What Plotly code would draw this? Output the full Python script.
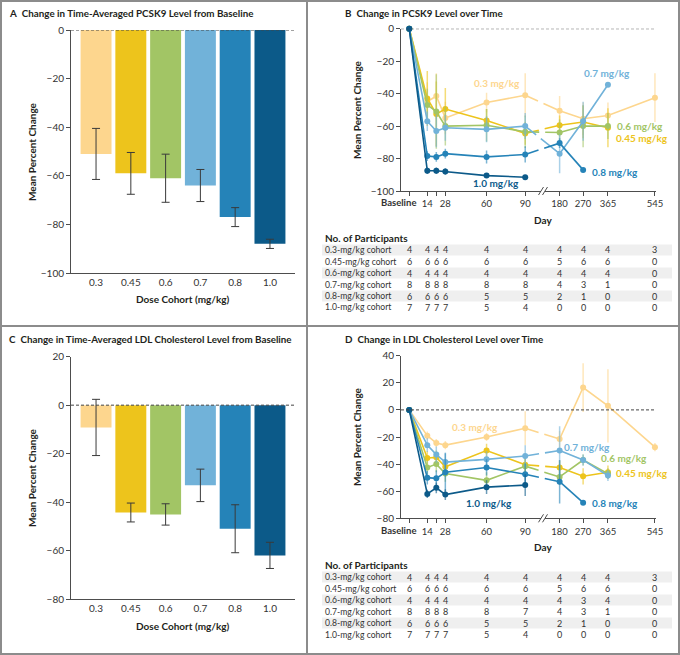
import plotly.graph_objects as go

W, H = 680, 655
FONT = "Lato"
INK = "#231f20"
AXIS = "#4d4d4d"

# dose cohorts (mg/kg) and their colours
doses = ["0.3", "0.45", "0.6", "0.7", "0.8", "1.0"]
dose_colors = ["#FDD68E", "#EDC41C", "#A2C565", "#71B2D9", "#2583B8", "#0C5A89"]

# panel A: time-averaged PCSK9 change, panel C: time-averaged LDL change
pcsk9_avg = [-51, -59, -61, -64, -77, -88]
pcsk9_avg_err = [10.5, 8.6, 9.9, 6.6, 3.9, 1.9]
ldl_avg = [-9.2, -44.3, -45.1, -33.1, -51, -62]
ldl_avg_err = [11.6, 3.9, 4.4, 6.7, 9.9, 5.4]

# panels B / D: change over time
days = [0, 14, 21, 28, 60, 90, 180, 270, 365, 545]
day_labels = ["", "14", "", "28", "60", "90", "180", "270", "365", "545"]

pcsk9_03 = [0, -45, -41.5, -55, -45.5, -41, -50.5, -55.5, -53.5, -42.5]
pcsk9_045 = [0, -43, -52.5, -49.5, -56.5, -64.5, -59.5, -57.5, -61, None]
pcsk9_06 = [0, -47, -51, -60, -59.5, -63.5, -64, -60, -60, None]
pcsk9_07 = [0, -57, -63, -61, -62, -60, -77, -57, -34.5, None]
pcsk9_08 = [0, -78.5, -79, -77, -79, -77.5, -70.5, -87, None, None]
pcsk9_10 = [0, -87.5, -87.5, -88, -90.5, -91.5, None, None, None, None]

pcsk9_03_err = [0, 12, 14, 10, 6, 13.5, 9, 10, 8, 15]
pcsk9_045_err = [0, 17, 20, 13, 7, 7, 6, 10, 12, None]
pcsk9_06_err = [0, 10, 23, 12, 10, 10, 8, 13, 8, None]
pcsk9_07_err = [0, 6, 10, 8, 8, 8, 12, 12, 0, None]
pcsk9_08_err = [0, 3, 3, 3, 4, 5, 3, 0, None, None]
pcsk9_10_err = [0, 2, 2, 2, 1, 1, None, None, None, None]

ldl_03 = [0, -19, -24.5, -26, -20, -13.5, -21.5, 16.5, 3, -27.5]
ldl_045 = [0, -35.5, -35, -42, -30, -40.5, -42.5, -49, -46, None]
ldl_06 = [0, -42.5, -40, -47, -52, -41.5, -49.5, -37, -47, None]
ldl_07 = [0, -26, -33, -38.5, -36.5, -34, -30, -37, -48.5, None]
ldl_08 = [0, -50, -50.5, -46, -42.5, -47.5, -53, -68.5, None, None]
ldl_10 = [0, -62, -57.5, -62.5, -57, -55.5, None, None, None, None]

ldl_03_err = [0, 3, 3, 3, 3, 12.5, 6, 18, 27, 3]
ldl_045_err = [0, 5, 5, 5, 5, 6, 5, 6, 5, None]
ldl_06_err = [0, 5, 6, 6, 6, 8, 6, 4, 4, None]
ldl_07_err = [0, 5, 6, 7, 6, 8, 18, 4, 4, None]
ldl_08_err = [0, 5, 6, 14, 6, 8, 16, 0, None, None]
ldl_10_err = [0, 3, 4, 4, 5, 8, None, None, None, None]

# number of participants
n_pcsk9 = [
    [4, 4, 4, 4, 4, 4, 4, 4, 4, 3],
    [6, 6, 6, 6, 6, 6, 5, 6, 6, 0],
    [4, 4, 4, 4, 4, 4, 4, 4, 4, 0],
    [8, 8, 8, 8, 8, 8, 4, 3, 1, 0],
    [6, 6, 6, 6, 5, 5, 2, 1, 0, 0],
    [7, 7, 7, 7, 5, 4, 0, 0, 0, 0],
]
n_ldl = [
    [4, 4, 4, 4, 4, 4, 4, 4, 4, 3],
    [6, 6, 6, 6, 6, 6, 5, 6, 6, 0],
    [4, 4, 4, 4, 4, 4, 4, 3, 4, 0],
    [8, 8, 8, 8, 8, 7, 4, 3, 1, 0],
    [6, 6, 6, 6, 5, 5, 2, 1, 0, 0],
    [7, 7, 7, 7, 5, 4, 0, 0, 0, 0],
]
row_labels = [d + "-mg/kg cohort" for d in doses]

pcsk9_series = [pcsk9_03, pcsk9_045, pcsk9_06, pcsk9_07, pcsk9_08, pcsk9_10]
pcsk9_errs = [pcsk9_03_err, pcsk9_045_err, pcsk9_06_err, pcsk9_07_err, pcsk9_08_err, pcsk9_10_err]
ldl_series = [ldl_03, ldl_045, ldl_06, ldl_07, ldl_08, ldl_10]
ldl_errs = [ldl_03_err, ldl_045_err, ldl_06_err, ldl_07_err, ldl_08_err, ldl_10_err]


def day_pos(d):
    # broken time axis: days up to 90 linear, after the break compressed
    if d <= 90:
        return d
    return 116.7 + (d - 180) * 0.2027


def px(x):
    return x / W


def py(y):
    return 1 - y / H


def rgba(hexc, a):
    h = hexc.lstrip("#")
    return "rgba(%d,%d,%d,%s)" % (int(h[0:2], 16), int(h[2:4], 16), int(h[4:6], 16), a)


fig = go.Figure()

# bar panels
for vals, errs, xa, ya in [(pcsk9_avg, pcsk9_avg_err, "x", "y"), (ldl_avg, ldl_avg_err, "x3", "y3")]:
    fig.add_trace(go.Bar(
        x=doses, y=vals, marker=dict(color=dose_colors, line=dict(width=0)),
        error_y=dict(type="data", array=errs, color="#3a3a3a", thickness=1, width=4),
        xaxis=xa, yaxis=ya, showlegend=False,
    ))

# line panels
for series, errs, xa, ya in [(pcsk9_series, pcsk9_errs, "x2", "y2"), (ldl_series, ldl_errs, "x4", "y4")]:
    for vals, err, col in zip(series, errs, dose_colors):
        pre = [(day_pos(d), v, e) for d, v, e in zip(days, vals, err) if d <= 90 and v is not None]
        post = [(day_pos(d), v, e) for d, v, e in zip(days, vals, err) if d >= 180 and v is not None]
        if pre and post:
            fig.add_trace(go.Scatter(
                x=[pre[-1][0], post[0][0]], y=[pre[-1][1], post[0][1]], mode="lines",
                line=dict(color=col, width=1.6, dash="14px,6px,40px"),
                xaxis=xa, yaxis=ya, showlegend=False, cliponaxis=False,
            ))
        for part in (pre, post):
            if not part:
                continue
            fig.add_trace(go.Scatter(
                x=[p[0] for p in part], y=[p[1] for p in part], mode="lines+markers",
                line=dict(color=col, width=1.6), marker=dict(color=col, size=6),
                error_y=dict(type="data", array=[p[2] for p in part], color=rgba(col, 0.6),
                             thickness=1.5, width=0),
                xaxis=xa, yaxis=ya, showlegend=False, cliponaxis=False,
            ))

tick_font = dict(family=FONT, size=10, color="#333333")
bar_x = dict(type="category", range=[-0.72, 5.72], showline=True, linecolor=AXIS, linewidth=1,
             ticks="", tickfont=tick_font, showgrid=False, zeroline=False, automargin=False)
line_x = dict(range=[-6.4, 191.5], showline=True, linecolor=AXIS, linewidth=1, ticks="outside",
              ticklen=4, tickcolor=AXIS, tickvals=[day_pos(d) for d in days], ticktext=day_labels,
              tickangle=0, tickfont=dict(family=FONT, size=9.5, color="#333333"),
              showgrid=False, zeroline=False, automargin=False)
y_common = dict(showline=True, linecolor=AXIS, linewidth=1, ticks="outside", ticklen=4,
                tickcolor=AXIS, tickfont=tick_font, showgrid=False, zeroline=False, dtick=20,
                automargin=False)

fig.update_layout(
    template="none",
    width=W, height=H, margin=dict(l=0, r=0, t=0, b=0, pad=0, autoexpand=False),
    paper_bgcolor="white", plot_bgcolor="white", showlegend=False,
    font=dict(family=FONT, color=INK), bargap=0.11,
    xaxis=dict(bar_x, domain=[px(71), px(295)], anchor="y"),
    yaxis=dict(y_common, domain=[py(273), py(30)], range=[-100, 0], anchor="x"),
    xaxis2=dict(line_x, domain=[px(401), px(656)], anchor="y2"),
    yaxis2=dict(y_common, domain=[py(191), py(28.7)], range=[-100, 0], anchor="x2"),
    xaxis3=dict(bar_x, domain=[px(71), px(295)], anchor="y3"),
    yaxis3=dict(y_common, domain=[py(599), py(356.7)], range=[-80, 20], anchor="x3"),
    xaxis4=dict(line_x, domain=[px(401), px(656)], anchor="y4"),
    yaxis4=dict(y_common, domain=[py(518.3), py(355.7)], range=[-80, 40], anchor="x4"),
)

shapes = []
ann = []


def label(text, x, y, size=10, color=INK, xanchor="center", yanchor="middle", xref="paper",
          yref="paper", angle=0):
    ann.append(dict(text=text, x=x, y=y, xref=xref, yref=yref, xanchor=xanchor, yanchor=yanchor,
                    textangle=angle, showarrow=False, font=dict(family=FONT, size=size, color=color)))


# frame and dividers
border = "#8c8c8c"
shapes.append(dict(type="rect", xref="paper", yref="paper", x0=px(1), x1=px(679), y0=py(654), y1=py(1),
                   line=dict(color=border, width=2)))
shapes.append(dict(type="line", xref="paper", yref="paper", x0=px(307), x1=px(307), y0=0, y1=1,
                   line=dict(color=border, width=2)))
shapes.append(dict(type="line", xref="paper", yref="paper", x0=0, x1=1, y0=py(326), y1=py(326),
                   line=dict(color=border, width=2)))

# dashed zero lines
for x0, x1, ya in [(71, 295, "y"), (401, 656, "y2"), (71, 295, "y3"), (401, 656, "y4")]:
    shapes.append(dict(type="line", xref="paper", yref=ya, x0=px(x0), x1=px(x1), y0=0, y1=0,
                       line=dict(color="#444444", width=1, dash="3px,2px"), layer="above"))

# axis break marks
for yb in (191, 518.3):
    shapes.append(dict(type="rect", xref="paper", yref="paper", x0=px(541), x1=px(545),
                       y0=py(yb + 2), y1=py(yb - 2), fillcolor="white", line=dict(width=0)))
    for xs in (538.5, 542.5):
        shapes.append(dict(type="line", xref="paper", yref="paper", x0=px(xs), x1=px(xs + 5),
                           y0=py(yb + 4), y1=py(yb - 4), line=dict(color=AXIS, width=1)))

# panel titles
for letter, text, x, y in [
    ("A", "Change in Time-Averaged PCSK9 Level from Baseline", 7, 13),
    ("B", "Change in PCSK9 Level over Time", 343, 13),
    ("C", "Change in Time-Averaged LDL Cholesterol Level from Baseline", 7, 339),
    ("D", "Change in LDL Cholesterol Level over Time", 343, 339),
]:
    label("<b>%s</b>  <b>%s</b>" % (letter, text), px(x), py(y), size=9.8, xanchor="left")

# axis titles
for x, y in [(32, 152), (357, 110), (32, 478), (357, 437)]:
    label("<b>Mean Percent Change</b>", px(x), py(y), angle=-90)
for y in (299, 626):
    label("<b>Dose Cohort (mg/kg)</b>", px(183), py(y))
for y in (220, 547):
    label("<b>Day</b>", px(543), py(y))
# "Baseline" tick text sits left of its tick
for xa, y in (("x2", 202), ("x4", 530)):
    label("<b>Baseline</b>", 7.0, py(y), size=9.5, color="#333333", xanchor="right", xref=xa)

# series labels
b_labels = [(67.8, -33.6, "center"), (159, -67.3, "left"), (159.5, -60, "left"),
            (153.1, -27.5, "center"), (140.5, -88.1, "left"), (67.3, -94.9, "center")]
d_labels = [(51, -12.4, "center"), (159, -46.3, "left"), (147.5, -35.5, "left"),
            (137.6, -27.6, "center"), (140.5, -69, "left"), (62, -69, "center")]
for labels, xa, ya in [(b_labels, "x2", "y2"), (d_labels, "x4", "y4")]:
    for (x, y, anc), d, col in zip(labels, doses, dose_colors):
        label("<b>%s mg/kg</b>" % d, x, y, color=col, xanchor=anc, xref=xa, yref=ya)

# participant tables
for counts, xa, y_head in [(n_pcsk9, "x2", 238), (n_ldl, "x4", 565)]:
    label("<b>No. of Participants</b>", px(323), py(y_head), xanchor="left")
    for i, (lab, row) in enumerate(zip(row_labels, counts)):
        yr = y_head + 12 + i * 11.5
        if i % 2 == 0:
            shapes.append(dict(type="rect", xref="paper", yref="paper", x0=px(322), x1=px(672),
                               y0=py(yr + 5.6), y1=py(yr - 5.6), fillcolor="#efefef",
                               line=dict(width=0), layer="below"))
        label(lab, px(323), py(yr), size=8.6, color="#333333", xanchor="left")
        for d, n in zip(days, row):
            label(str(n), day_pos(d), py(yr), size=9, color="#333333", xref=xa)

fig.update_layout(shapes=shapes, annotations=ann)
fig.write_html("out.html", config={"displayModeBar": False},
               post_script="document.body.style.margin='0';")
